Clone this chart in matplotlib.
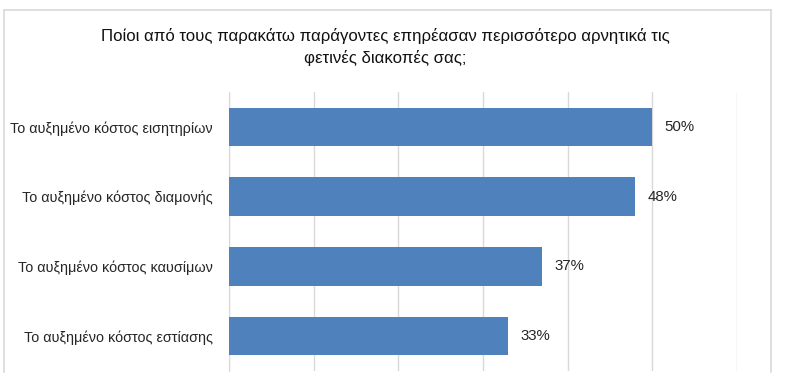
import matplotlib
matplotlib.use("Agg")
import matplotlib.pyplot as plt
from matplotlib.lines import Line2D

plt.rcParams['font.family'] = ['Liberation Sans', 'DejaVu Sans']

categories = [
    "Το αυξημένο κόστος εισητηρίων",
    "Το αυξημένο κόστος διαμονής",
    "Το αυξημένο κόστος καυσίμων",
    "Το αυξημένο κόστος εστίασης",
]
values = [50, 48, 37, 33]
value_labels = ["50%", "48%", "37%", "33%"]
title = ("Ποίοι από τους παρακάτω παράγοντες επηρέασαν περισσότερο αρνητικά τις\n"
         "φετινές διακοπές σας;")

W, H = 786, 383
fig = plt.figure(figsize=(W / 100, H / 100), dpi=100)

# plot area in pixels: x 229..737, y 92..371
ax = fig.add_axes([229 / W, 1 - 371 / H, (737 - 229) / W, (371 - 92) / H])

y = list(range(len(categories)))
ax.barh(y, values, height=0.55, color="#4F81BD", zorder=3)
ax.set_ylim(len(categories) - 0.5, -0.5)
ax.set_xlim(0, 60)
ax.set_xticks(range(0, 61, 10))
ax.xaxis.grid(True, color="#d9d9d9", linewidth=1.0, zorder=0)
ax.tick_params(axis="x", length=0, labelbottom=False)
ax.tick_params(axis="y", length=0, pad=11.5, labelsize=10.4, labelcolor="#262626")
ax.set_yticks(y)
ax.set_yticklabels(categories)
for s in ["top", "right", "bottom"]:
    ax.spines[s].set_visible(False)
ax.spines["left"].set_color("#d9d9d9")

for yi, v, lab in zip(y, values, value_labels):
    ax.text(v + 1.4, yi, lab, va="center", ha="left", fontsize=10.8, color="#262626")

fig.text(385 / W, 1 - 47 / H, title, ha="center", va="center", fontsize=12.1,
         color="#111111", linespacing=1.45)

# outer chart frame
frame_kw = dict(color="#d9d9d9", linewidth=1.2, transform=fig.transFigure)
fig.add_artist(Line2D([4 / W, 4 / W], [1 - 10 / H, 1 - 372 / H], **frame_kw))
fig.add_artist(Line2D([4 / W, 771 / W], [1 - 10 / H, 1 - 10 / H], **frame_kw))
fig.add_artist(Line2D([771 / W, 771 / W], [1 - 10 / H, 1 - 372 / H], **frame_kw))

fig.savefig("out.png", dpi=100)
